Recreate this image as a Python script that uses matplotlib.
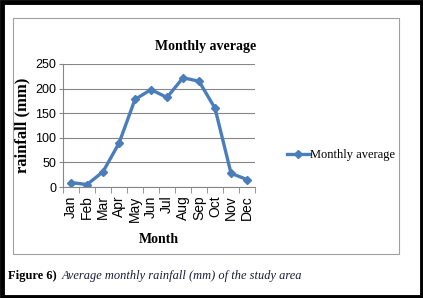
import matplotlib.pyplot as plt
from matplotlib.patches import Rectangle

months = ['Jan', 'Feb', 'Mar', 'Apr', 'May', 'Jun', 'Jul', 'Aug', 'Sep', 'Oct', 'Nov', 'Dec']
rainfall = [9, 5, 31, 89, 178, 198, 182, 222, 215, 160, 28, 15]
yticks = [0, 50, 100, 150, 200, 250]

W, H = 423, 298
fig = plt.figure(figsize=(W / 100, H / 100), dpi=100)

# black frame and gray chart border
fig.patches.append(Rectangle((1.5 / W, 1.5 / H), 1 - 3 / W, 1 - 3 / H, transform=fig.transFigure,
                             fill=False, edgecolor='black', linewidth=3.5))
fig.patches.append(Rectangle((13 / W, 1 - 254 / H), 386 / W, 236 / H, transform=fig.transFigure,
                             fill=False, edgecolor='#a0a0a0', linewidth=0.8))

ax = fig.add_axes([63 / W, 1 - 187 / H, 192 / W, 123 / H])
x = range(len(months))
ax.plot(x, rainfall, color='#4a7ebb', linewidth=2.4, marker='D', markersize=4.5,
        label='Monthly average')
ax.set_xlim(-0.5, len(months) - 0.5)
ax.set_ylim(0, 250)
ax.set_yticks(yticks)
ax.set_xticks(list(x))
ax.set_xticklabels(months, rotation=90, fontsize=10, family=['Liberation Sans', 'DejaVu Sans'])
for lab in ax.get_yticklabels():
    lab.set_family(['Liberation Sans Narrow', 'Liberation Sans'])
    lab.set_fontsize(9)
ax.grid(axis='y', color='#868686', linewidth=0.8)
ax.set_axisbelow(True)
for s in ['top', 'right']:
    ax.spines[s].set_visible(False)
ax.spines['left'].set_color('#868686')
ax.spines['bottom'].set_color('#868686')
ax.tick_params(axis='y', length=3, color='#868686', pad=2)
# tick marks between categories
ax.set_xticks([i + 0.5 for i in range(-1, len(months))], minor=True)
ax.tick_params(axis='x', which='major', length=0, pad=6)
ax.tick_params(axis='x', which='minor', length=4, color='#868686')

ax.set_title('Monthly average', family='Liberation Serif', fontweight='bold', fontsize=10,
             x=(206 - 63) / 192, pad=10)
ax.set_ylabel('rainfall (mm)', family='Liberation Serif', fontweight='bold', fontsize=12, labelpad=3)
ax.set_xlabel('Month', family='Liberation Serif', fontweight='bold', fontsize=10, labelpad=8)

ax.legend(loc='center left', bbox_to_anchor=(282 / W, 1 - 155 / H), bbox_transform=fig.transFigure,
          frameon=False, prop={'family': 'Liberation Serif', 'size': 9}, handlelength=1.8,
          handletextpad=0.05, borderaxespad=0)

fig.text(8 / W, 1 - 276 / H, 'Figure 6)', family='Liberation Serif', fontweight='bold', fontsize=9,
         va='center')
fig.text(62 / W, 1 - 276 / H, 'Average monthly rainfall (mm) of the study area', family='Liberation Serif',
         style='italic', fontsize=8.9, va='center', color='#1a1a3a')

fig.savefig('out.png', dpi=100)
